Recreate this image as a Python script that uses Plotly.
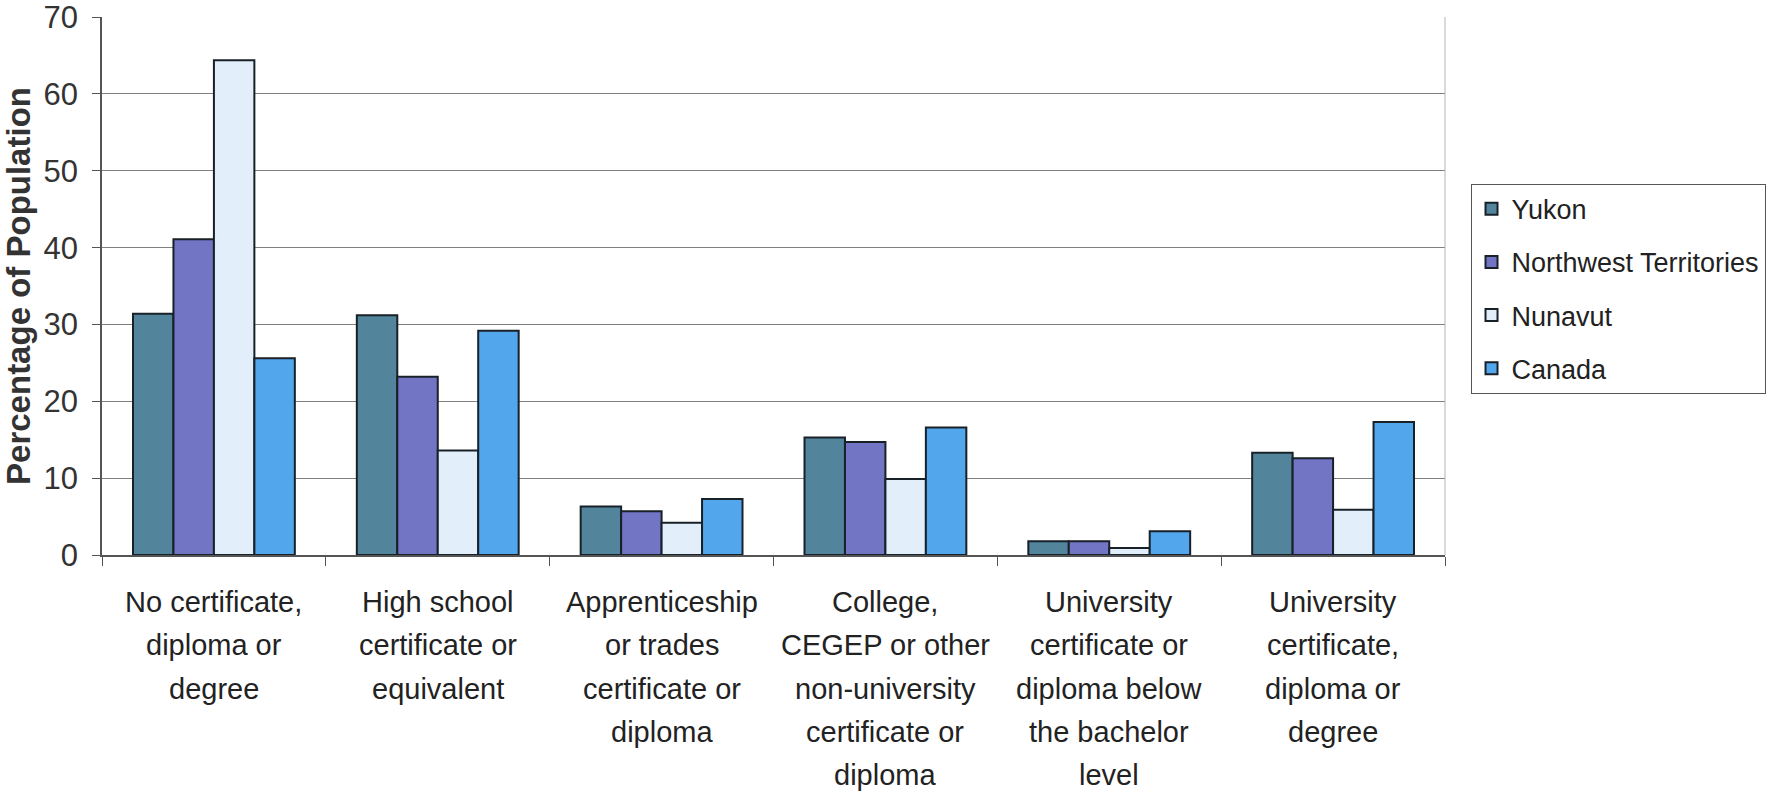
import plotly.graph_objects as go

# ---- data ----
category_lines = [
    ["No certificate,", "diploma or", "degree"],
    ["High school", "certificate or", "equivalent"],
    ["Apprenticeship", "or trades", "certificate or", "diploma"],
    ["College,", "CEGEP or other", "non-university", "certificate or", "diploma"],
    ["University", "certificate or", "diploma below", "the bachelor", "level"],
    ["University", "certificate,", "diploma or", "degree"],
]
categories = [" ".join(lines) for lines in category_lines]

series_names = ["Yukon", "Northwest Territories", "Nunavut", "Canada"]
yukon = [31.4, 31.2, 6.3, 15.3, 1.8, 13.3]
northwest_territories = [41.1, 23.2, 5.7, 14.7, 1.8, 12.6]
nunavut = [64.4, 13.6, 4.2, 9.9, 0.9, 5.9]
canada = [25.6, 29.2, 7.3, 16.6, 3.1, 17.3]
series_values = [yukon, northwest_territories, nunavut, canada]

y_ticks = [0, 10, 20, 30, 40, 50, 60, 70]
y_title = "Percentage of Population"

# ---- styles ----
colors = ["#52849c", "#7175c4", "#e2eefa", "#52a6ec"]
FONT = "Liberation Sans, Arial, sans-serif"

fig = go.Figure()
for i, (name, vals) in enumerate(zip(series_names, series_values)):
    fig.add_trace(go.Bar(
        name=name, x=categories, y=vals,
        marker=dict(color=colors[i], line=dict(color="#182028", width=2)),
        legendgroup=f"g{i}",
    ))

# multi-line category labels as annotations (tighter control of line spacing)
LINE_GAP = 43.3
for cat, lines in zip(categories, category_lines):
    for j, line in enumerate(lines):
        fig.add_annotation(
            x=cat, xref="x", y=0, yref="paper",
            text=line, showarrow=False,
            xanchor="center", yanchor="middle",
            yshift=-(47 + j * LINE_GAP),
            font=dict(family=FONT, size=29, color="#222222"),
        )

# right border of plot area
fig.add_shape(type="line", xref="paper", yref="paper", x0=1, x1=1, y0=0, y1=1,
              line=dict(color="#b5b5b5", width=1))

fig.update_layout(
    width=1781, height=796,
    margin=dict(l=102, r=336, t=17, b=241),
    paper_bgcolor="white", plot_bgcolor="white",
    barmode="group", bargap=0.277, bargroupgap=0,
    showlegend=True,
    legend=dict(
        x=1.019, xanchor="left", y=0.690, yanchor="top",
        bordercolor="#555555", borderwidth=1,
        font=dict(family=FONT, size=27, color="#222222"),
        tracegroupgap=15, traceorder="grouped",
    ),
    xaxis=dict(
        type="category", showticklabels=False, automargin=False,
        showline=True, linecolor="#555555", linewidth=1.5,
        ticks="outside", tickson="boundaries", ticklen=9, tickcolor="#555555",
        showgrid=False, zeroline=False,
    ),
    yaxis=dict(
        range=[0, 70.02], tickvals=y_ticks, ticktext=[str(v) for v in y_ticks],
        automargin=False, ticklabeloverflow="allow",
        showline=True, linecolor="#555555", linewidth=1.5,
        ticks="outside", ticklen=8, tickcolor="#555555",
        ticklabelstandoff=8,
        showgrid=True, gridcolor="#808080", gridwidth=1, zeroline=False,
        tickfont=dict(family=FONT, size=31, color="#333333"),
        title=dict(text=y_title, standoff=5,
                   font=dict(family=FONT, size=33, color="#333333", weight="bold")),
    ),
)

# remove the page's default body margin so the figure fills the window exactly
fig.write_html("out.html", config={"displayModeBar": False},
               post_script="document.body.style.margin='0';")
